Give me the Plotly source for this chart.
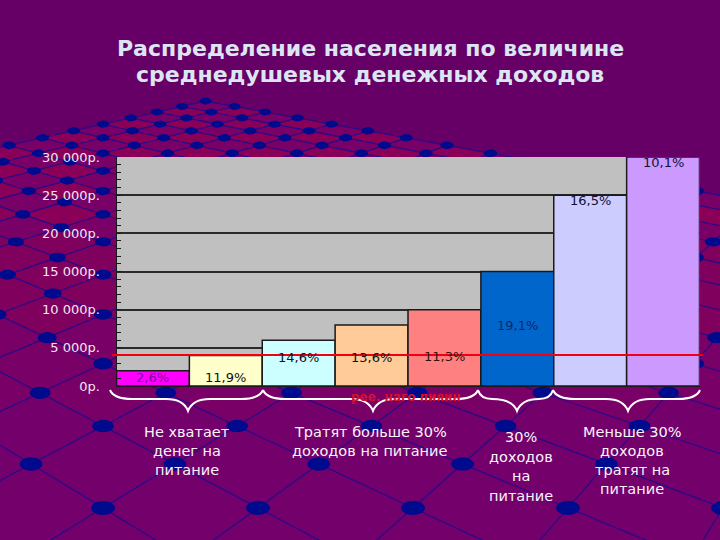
#!/usr/bin/env python3
"""Income distribution slide: stepped bars over the perspective-grid slide background."""
import numpy as np
import plotly.graph_objects as go

TITLE_LINES = ["Распределение населения по величине", "среднедушевых денежных доходов"]

income_upper = [2000, 4000, 6000, 8000, 10000, 15000, 25000, 30000]
share_labels = ["2,6%", "11,9%", "14,6%", "13,6%", "11,3%", "19,1%", "16,5%", "10,1%"]
bar_colors = ["#FF00FF", "#FFFFCC", "#CCFFFF", "#FFCC99", "#FF8080", "#0066CC", "#CCCCFF", "#CC99FF"]
label_colors = ["#7A0A9A", "#111111", "#111133", "#111111", "#331111", "#0A2A6A", "#111133", "#111133"]
# where each share label sits on the value axis
label_at = [1150, 1150, 3750, 3750, 3900, 7950, 24250, 29300]

tick_vals = [0, 5000, 10000, 15000, 20000, 25000, 30000]
tick_text = ["0р.", "5 000р.", "10 000р.", "15 000р.", "20 000р.", "25 000р.", "30 000р."]
poverty_line = 4050

# group captions: centre x on the slide, first baseline row, line step, lines
captions = [
    (187, 432, 19, ["Не хватает", "денег на", "питание"]),
    (370, 432, 19, ["Тратят больше 30%", "доходов на питание"]),
    (521, 437, 19.7, ["30%", "доходов", "на", "питание"]),
    (632, 432, 19, ["Меньше 30%", "доходов", "тратят на", "питание"]),
]
# brace start, tip, end on the slide
braces = [(110, 188, 263), (263, 373, 478), (478, 517, 553), (553, 628, 700)]

BG = "#660066"
LABEL_FONT = "DejaVu Sans"
GRID_SPAN = 31  # lattice rows drawn from the apex; past this the grid is off the slide


def project(a, b):
    """Slide background lattice (a, b) to page pixels."""
    r = 26.0 - (a + b)
    depth = 1.0 / (0.001645 + 0.000128 * r)
    c = 2.0 + (a - b) / 2.0
    return 103 + 0.255 * depth * c, depth - 100


def add_backdrop(fig):
    n = GRID_SPAN
    bands = {"#8A0058": [], "#80005E": [], "#790066": [], "#74006C": []}
    for a in range(n):
        for b in range(n - a):
            corners = [project(a, b), project(a + 1, b), project(a + 1, b + 1), project(a, b + 1)]
            y_mid = sum(p[1] for p in corners) / 4
            if y_mid < 240:
                key = "#8A0058" if (a + b) % 2 else "#790066"
            elif y_mid < 320:
                key = "#80005E"
            elif y_mid < 400:
                key = "#790066"
            else:
                key = "#74006C"
            bands[key] += corners + [corners[0], (None, None)]
    for color, pts in bands.items():
        fig.add_trace(go.Scatter(x=[p[0] for p in pts], y=[p[1] for p in pts], mode="lines",
                                 fill="toself", fillcolor=color, line=dict(width=0),
                                 hoverinfo="skip", showlegend=False, xaxis="x", yaxis="y"))

    lx, ly = [], []
    for i in range(n + 1):
        for pts in ([project(i, 0), project(i, n - i)], [project(0, i), project(n - i, i)]):
            # lines stay straight under the projection, two ends are enough
            lx += [pts[0][0], pts[1][0], None]
            ly += [pts[0][1], pts[1][1], None]
    fig.add_trace(go.Scatter(x=lx, y=ly, mode="lines", line=dict(color="#2A0A86", width=1.3),
                             hoverinfo="skip", showlegend=False, xaxis="x", yaxis="y"))

    nx, ny = [], []
    t = np.linspace(0, 2 * np.pi, 17)
    for a in range(n + 1):
        for b in range(n + 1 - a):
            px, py = project(a, b)
            rx = 3 + (py + 100) * 0.015
            nx += list(px + rx * np.cos(t)) + [None]
            ny += list(py + rx * 0.58 * np.sin(t)) + [None]
    fig.add_trace(go.Scatter(x=nx, y=ny, mode="lines", fill="toself", fillcolor="#000A8C",
                             line=dict(width=0), hoverinfo="skip", showlegend=False,
                             xaxis="x", yaxis="y"))


fig = go.Figure()
add_backdrop(fig)

positions = list(range(len(income_upper)))
fig.add_trace(go.Bar(x=positions, y=income_upper, width=1, xaxis="x2", yaxis="y2",
                     marker=dict(color=bar_colors, line=dict(color="#1A1A1A", width=1.5)),
                     hoverinfo="skip", showlegend=False))

fig.update_layout(
    width=720, height=540, margin=dict(l=0, r=0, t=0, b=0, autoexpand=False), showlegend=False,
    paper_bgcolor=BG, plot_bgcolor="rgba(0,0,0,0)",
    xaxis=dict(domain=[0, 1], range=[0, 720], visible=False, fixedrange=True),
    yaxis=dict(domain=[0, 1], range=[540, 0], visible=False, fixedrange=True),
    xaxis2=dict(domain=[116.5 / 720, 699.5 / 720], range=[-0.5, 7.5], anchor="y2", showgrid=False,
                showticklabels=False, ticks="", showline=True, linecolor="#1A1A1A", linewidth=1,
                zeroline=False),
    yaxis2=dict(domain=[154 / 540, 383 / 540], range=[0, 30000], anchor="x2",
                tickvals=tick_vals, ticktext=tick_text, ticks="inside", ticklen=4, tickcolor="#1A1A1A",
                tickwidth=1, ticklabelstandoff=13, showgrid=True, gridcolor="#2A2A2A", gridwidth=1.5,
                zeroline=False, showline=True, linecolor="#1A1A1A", linewidth=1,
                tickfont=dict(family=LABEL_FONT, size=13, color="#F2E6F2"),
                minor=dict(dtick=1000, ticks="inside", ticklen=4, tickcolor="#1A1A1A", showgrid=False)),
)

# grey chart wall, under the gridlines
fig.add_shape(type="rect", layer="below", xref="x2", yref="y2", x0=-0.5, x1=7.5, y0=0, y1=30000,
              fillcolor="#C0C0C0", line=dict(width=0))
fig.add_shape(type="line", xref="x", yref="y2", x0=112, x1=703, y0=poverty_line, y1=poverty_line,
              line=dict(color="#F00010", width=2))

for x0, tip, x1 in braces:
    path = (f"M {x0},390 C {x0 + 3},397 {x0 + 12},399 {x0 + 22},399 "
            f"L {tip - 22},399 C {tip - 10},399 {tip - 3},403 {tip},411 "
            f"C {tip + 3},403 {tip + 10},399 {tip + 22},399 "
            f"L {x1 - 22},399 C {x1 - 12},399 {x1 - 3},397 {x1},390")
    if tip - x0 < 50:
        path = (f"M {x0},390 C {x0 + 2},397 {x0 + 8},399 {x0 + 14},399 "
                f"C {tip - 10},399 {tip - 3},403 {tip},411 "
                f"C {tip + 3},403 {tip + 10},399 {x1 - 14},399 "
                f"C {x1 - 8},399 {x1 - 2},397 {x1},390")
    fig.add_shape(type="path", path=path, xref="x", yref="y", line=dict(color="#FFFFFF", width=2))


def page_text(x, y, text, size, color, bold=False, family=LABEL_FONT):
    fig.add_annotation(x=x, y=y, xref="x", yref="y", text=f"<b>{text}</b>" if bold else text,
                       showarrow=False, xanchor="center", yanchor="middle",
                       font=dict(family=family, size=size, color=color))


page_text(370, 48, TITLE_LINES[0], 22, "#DCE6F2", bold=True)
page_text(370, 74, TITLE_LINES[1], 22, "#DCE6F2", bold=True)

for pos, at, label, color in zip(positions, label_at, share_labels, label_colors):
    fig.add_annotation(x=pos, y=at, xref="x2", yref="y2", text=label, showarrow=False,
                       font=dict(family=LABEL_FONT, size=13, color=color))

page_text(406, 397, "рее. наго пияин", 12, "#D8102A", bold=True)

for cx, top, step, lines in captions:
    for i, line in enumerate(lines):
        page_text(cx, top + i * step, line, 14.5, "#FAF4FA")

fig.write_html("out.html", config=dict(displayModeBar=False),
               post_script="document.body.style.margin='0';")
